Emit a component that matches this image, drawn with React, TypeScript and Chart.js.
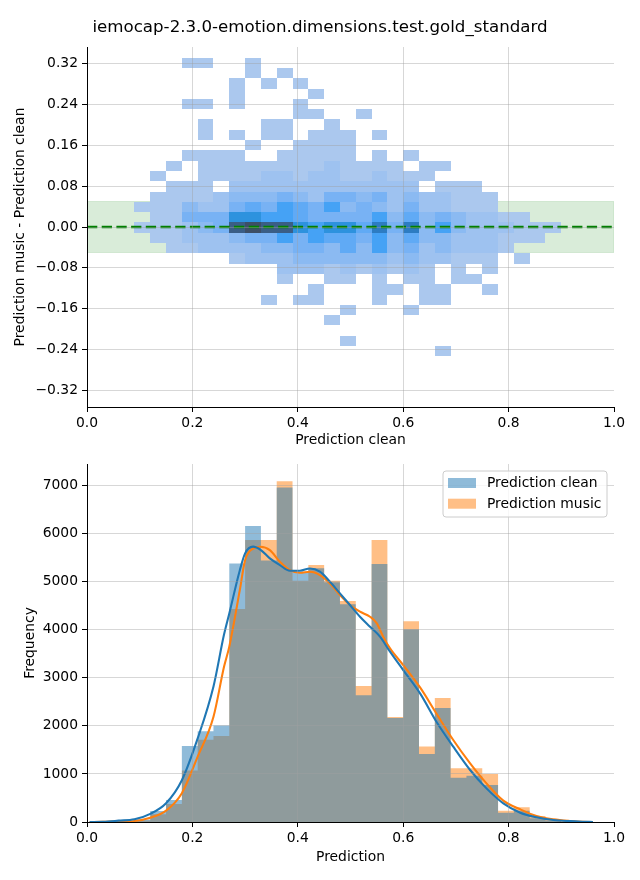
import React, { useEffect, useRef } from 'react';
import { Chart, registerables } from 'chart.js';

Chart.register(...registerables);

const FONT = "'DejaVu Sans', sans-serif";
const FONT_SIZE = 13.89;
const TITLE_SIZE = 16.67;

const TITLE = 'iemocap-2.3.0-emotion.dimensions.test.gold_standard';
const TOP_X_LABEL = 'Prediction clean';
const TOP_Y_LABEL = 'Prediction music - Prediction clean';
const BOTTOM_X_LABEL = 'Prediction';
const BOTTOM_Y_LABEL = 'Frequency';
const SERIES_NAMES = ['Prediction clean', 'Prediction music'];

const X_TICKS = [0, 0.2, 0.4, 0.6, 0.8, 1.0];
const TOP_Y_TICKS = [-0.32, -0.24, -0.16, -0.08, 0, 0.08, 0.16, 0.24, 0.32];
const BOTTOM_Y_TICKS = [0, 1000, 2000, 3000, 4000, 5000, 6000, 7000];

// 2D histogram: columns start at 0.09, width 0.03; rows from top edge 0.3322 down, height 0.0202
const HEAT_X_FIRST_EDGE = 0.09;
const HEAT_X_BIN = 0.03;
const HEAT_Y_TOP_EDGE = 0.3322;
const HEAT_Y_BIN = 0.0202;
// one string per row (top to bottom), one char per column: '.' empty, 1..a = count level
const HEAT_ROWS = [
  '...11..1',
  '.......1.1',
  '......1.1.1',
  '......1....1',
  '...11.1...1',
  '..........11..1',
  '....1...11..1',
  '....1.1.11.111.1',
  '.......1..1111',
  '...1111..11111.1.1',
  '..1.1111111121111.11',
  '.1..111122122112111',
  '..111.222222222222.111',
  '.1111233343244342322111',
  '11132245465463432422111',
  '.114447766544446353432211',
  '1112349a9976775848363222111',
  '.1122234464655463533222111',
  '..1122223344353634232221',
  '......12223333332322111.1',
  '.........2221212121.1.1',
  '.........1..11.1.11.11',
  '...........1...11.11..1',
  '........1.11...1..11',
  '.............1...1',
  '............1',
  '',
  '.............1',
  '...................1',
];
const HEAT_LEVEL_COLORS = [
  'rgba(0,0,0,0)',
  '#abc8ee',
  '#9ec2f0',
  '#8bbaf2',
  '#78b2f4',
  '#60aaf5',
  '#45a2f5',
  '#2d92de',
  '#2d7cc2',
  '#3a5e86',
  '#3d4f66',
];

const BAND_LOW = -0.05;
const BAND_HIGH = 0.05;
const ZERO_LINE_X = [0, 1];
const ZERO_LINE_Y = [0, 0];

// 1D histograms: bin edges and counts per bin
const BIN_EDGES = [
  0.09, 0.12, 0.15, 0.18, 0.21, 0.24, 0.27, 0.3, 0.33, 0.36, 0.39, 0.42, 0.45, 0.48,
  0.51, 0.54, 0.57, 0.6, 0.63, 0.66, 0.69, 0.72, 0.75, 0.78, 0.81, 0.84, 0.87, 0.9,
];
const CLEAN_COUNTS = [
  50, 230, 458, 1580, 1890, 2010, 5380, 6160, 5440, 6960, 5200, 5280, 4990, 4530,
  2640, 5370, 2165, 4010, 1415, 2370, 920, 960, 770, 195, 236, 80, 30,
];
const MUSIC_COUNTS = [
  30, 160, 374, 1070, 1710, 1790, 4430, 5870, 5870, 7090, 5020, 5350, 5020, 4600,
  2830, 5870, 2185, 4180, 1570, 2580, 1120, 1120, 1000, 235, 305, 125, 45,
];

const KDE_CLEAN_X = [
  0.005, 0.03, 0.06, 0.09, 0.12, 0.15, 0.18, 0.21, 0.24, 0.26, 0.27, 0.29, 0.3, 0.315, 0.33,
  0.347, 0.366, 0.385, 0.404, 0.423, 0.442, 0.461, 0.48, 0.499, 0.518, 0.537, 0.556, 0.575,
  0.6, 0.632, 0.664, 0.695, 0.727, 0.758, 0.79, 0.822, 0.853, 0.885, 0.916, 0.94, 0.96,
];
const KDE_CLEAN_Y = [
  0, 5, 28, 55, 170, 390, 870, 1740, 2820, 3900, 4340, 5240, 5590, 5730, 5660,
  5485, 5347, 5229, 5229, 5277, 5208, 5000, 4757, 4515, 4272, 4064, 3856, 3544,
  3162, 2677, 2070, 1567, 1082, 700, 388, 194, 97, 42, 18, 6, 0,
];
const KDE_MUSIC_X = [
  0.005, 0.03, 0.06, 0.09, 0.12, 0.15, 0.18, 0.21, 0.24, 0.26, 0.27, 0.29, 0.3, 0.315, 0.329,
  0.347, 0.366, 0.385, 0.404, 0.423, 0.442, 0.461, 0.48, 0.499, 0.518, 0.537, 0.55, 0.562,
  0.575, 0.6, 0.632, 0.664, 0.695, 0.727, 0.758, 0.79, 0.822, 0.853, 0.885, 0.916, 0.94, 0.96,
];
const KDE_MUSIC_Y = [
  0, 2, 12, 22, 90, 236, 600, 1360, 2190, 3230, 3650, 4830, 5450, 5690, 5728,
  5659, 5416, 5243, 5187, 5208, 5139, 4965, 4722, 4515, 4376, 4272, 4133, 3856,
  3613, 3266, 2800, 2240, 1706, 1220, 804, 444, 264, 125, 55, 21, 6, 0,
];

const CLEAN_FILL = 'rgba(31,119,180,0.5)';
const MUSIC_FILL = 'rgba(255,127,14,0.5)';
const GRID_COLOR = 'rgba(160,160,160,0.42)';

const axisFont = { family: FONT, size: FONT_SIZE };

function fmtSigned2(v: number) {
  const s = Math.abs(v).toFixed(2);
  return v < -1e-9 ? '\u2212' + s : s;
}

// step outline of a histogram: each count holds from its left edge to the next edge
function histSteps(counts: number[]) {
  return BIN_EDGES.map((x, i) => ({ x, y: counts[Math.min(i, counts.length - 1)] }));
}

function gridOpts(hideValues: number[]) {
  return {
    color: (ctx: any) => {
      const v = ctx.tick ? ctx.tick.value : null;
      if (v !== null && hideValues.some((h) => Math.abs(h - v) < 1e-9)) return 'rgba(0,0,0,0)';
      return GRID_COLOR;
    },
    lineWidth: 1,
    tickColor: '#000',
    tickLength: 5,
    tickWidth: 1,
    z: 1,
    offset: false,
  };
}

function xScale(title: string, titlePadBottom: number, height: number) {
  return {
    type: 'linear',
    min: 0,
    max: 1,
    offset: false,
    afterBuildTicks: (s: any) => {
      s.ticks = X_TICKS.map((v) => ({ value: v }));
    },
    afterFit: (s: any) => {
      s.height = height;
    },
    grid: gridOpts([0, 1]),
    border: { display: true, color: '#000', width: 1, z: 2 },
    ticks: {
      color: '#000',
      font: axisFont,
      padding: 3,
      maxRotation: 0,
      autoSkip: false,
      callback: (v: any) => Number(v).toFixed(1),
    },
    title: {
      display: true,
      text: title,
      color: '#000',
      font: axisFont,
      padding: { top: 0, bottom: titlePadBottom },
    },
  };
}

function yScale(title: string, titlePadTop: number, min: number, max: number, ticks: number[], fmt: (v: number) => string, hide: number[]) {
  return {
    type: 'linear',
    min,
    max,
    afterBuildTicks: (s: any) => {
      s.ticks = ticks.map((v) => ({ value: v }));
    },
    afterFit: (s: any) => {
      s.width = 87;
    },
    grid: gridOpts(hide),
    border: { display: true, color: '#000', width: 1, z: 2 },
    ticks: {
      color: '#000',
      font: axisFont,
      padding: 4,
      autoSkip: false,
      callback: (v: any) => fmt(Number(v)),
    },
    title: {
      display: true,
      text: title,
      color: '#000',
      font: axisFont,
      padding: { top: titlePadTop, bottom: 0 },
    },
  };
}

const heatPlugin = {
  id: 'heatCells',
  beforeDatasetsDraw(chart: any) {
    const { ctx, chartArea } = chart;
    const xs = chart.scales.x;
    const ys = chart.scales.y;
    ctx.save();
    ctx.beginPath();
    ctx.rect(chartArea.left, chartArea.top, chartArea.right - chartArea.left, chartArea.bottom - chartArea.top);
    ctx.clip();
    // tolerance band
    const bx0 = xs.getPixelForValue(0);
    const bx1 = xs.getPixelForValue(1);
    const by0 = ys.getPixelForValue(BAND_HIGH);
    const by1 = ys.getPixelForValue(BAND_LOW);
    ctx.fillStyle = 'rgba(0,128,0,0.15)';
    ctx.fillRect(bx0, by0, bx1 - bx0, by1 - by0);
    ctx.strokeStyle = 'rgba(0,128,0,0.12)';
    ctx.lineWidth = 1;
    ctx.strokeRect(bx0, by0, bx1 - bx0, by1 - by0);
    // cells
    HEAT_ROWS.forEach((row, i) => {
      const top = HEAT_Y_TOP_EDGE - i * HEAT_Y_BIN;
      const bottom = top - HEAT_Y_BIN;
      const py0 = Math.round(ys.getPixelForValue(top));
      const py1 = Math.round(ys.getPixelForValue(bottom));
      for (let c = 0; c < row.length; c++) {
        const ch = row[c];
        if (ch === '.') continue;
        const lvl = parseInt(ch, 16);
        const px0 = Math.round(xs.getPixelForValue(HEAT_X_FIRST_EDGE + c * HEAT_X_BIN));
        const px1 = Math.round(xs.getPixelForValue(HEAT_X_FIRST_EDGE + (c + 1) * HEAT_X_BIN));
        ctx.fillStyle = HEAT_LEVEL_COLORS[lvl];
        ctx.fillRect(px0, py0, px1 - px0, py1 - py0);
      }
    });
    ctx.restore();
  },
};

const legendPlugin = {
  id: 'boxLegend',
  afterDraw(chart: any) {
    const { ctx, chartArea } = chart;
    const w = 164;
    const h = 46;
    const x0 = chartArea.right - 7 - w;
    const y0 = chartArea.top + 7;
    ctx.save();
    ctx.beginPath();
    const r = 3;
    ctx.moveTo(x0 + r, y0);
    ctx.lineTo(x0 + w - r, y0);
    ctx.arcTo(x0 + w, y0, x0 + w, y0 + r, r);
    ctx.lineTo(x0 + w, y0 + h - r);
    ctx.arcTo(x0 + w, y0 + h, x0 + w - r, y0 + h, r);
    ctx.lineTo(x0 + r, y0 + h);
    ctx.arcTo(x0, y0 + h, x0, y0 + h - r, r);
    ctx.lineTo(x0, y0 + r);
    ctx.arcTo(x0, y0, x0 + r, y0, r);
    ctx.closePath();
    ctx.fillStyle = 'rgba(255,255,255,0.8)';
    ctx.fill();
    ctx.strokeStyle = '#cccccc';
    ctx.lineWidth = 1;
    ctx.stroke();
    const fills = [CLEAN_FILL, MUSIC_FILL];
    ctx.font = `${FONT_SIZE}px ${FONT}`;
    ctx.textBaseline = 'middle';
    ctx.textAlign = 'left';
    SERIES_NAMES.forEach((name, i) => {
      const py = y0 + 7 + i * 20.7;
      ctx.fillStyle = fills[i];
      ctx.fillRect(x0 + 5, py, 28, 10);
      ctx.fillStyle = '#000';
      ctx.fillText(name, x0 + 44, py + 5.5);
    });
    ctx.restore();
  },
};

function topConfig(): any {
  return {
    type: 'scatter',
    data: {
      datasets: [
        {
          data: ZERO_LINE_X.map((x, i) => ({ x, y: ZERO_LINE_Y[i] })),
          showLine: true,
          borderColor: '#008000',
          borderWidth: 2.7,
          borderDash: [10.3, 4.4],
          pointRadius: 0,
          fill: false,
        },
      ],
    },
    options: {
      animation: false,
      responsive: false,
      devicePixelRatio: 1,
      events: [],
      layout: { padding: { top: 47, right: 26, bottom: 0, left: 0 } },
      plugins: { legend: { display: false }, tooltip: { enabled: false }, title: { display: false } },
      scales: {
        x: xScale(TOP_X_LABEL, 1, 43),
        y: yScale(TOP_Y_LABEL, 12.5, -0.353, 0.353, TOP_Y_TICKS, fmtSigned2, []),
      },
    },
    plugins: [heatPlugin],
  };
}

function bottomConfig(): any {
  const histCommon = {
    showLine: true,
    stepped: 'before',
    borderWidth: 0,
    borderColor: 'rgba(0,0,0,0)',
    pointRadius: 0,
    fill: 'origin',
  };
  const lineCommon = {
    showLine: true,
    borderWidth: 2.08,
    pointRadius: 0,
    fill: false,
    cubicInterpolationMode: 'monotone',
  };
  return {
    type: 'scatter',
    data: {
      datasets: [
        {
          ...lineCommon,
          label: 'kde clean',
          data: KDE_CLEAN_X.map((x, i) => ({ x, y: KDE_CLEAN_Y[i] })),
          borderColor: '#1f77b4',
          order: 0,
        },
        {
          ...lineCommon,
          label: 'kde music',
          data: KDE_MUSIC_X.map((x, i) => ({ x, y: KDE_MUSIC_Y[i] })),
          borderColor: '#ff7f0e',
          order: 1,
        },
        {
          ...histCommon,
          label: SERIES_NAMES[0],
          data: histSteps(CLEAN_COUNTS),
          backgroundColor: CLEAN_FILL,
          order: 2,
        },
        {
          ...histCommon,
          label: SERIES_NAMES[1],
          data: histSteps(MUSIC_COUNTS),
          backgroundColor: MUSIC_FILL,
          order: 3,
        },
      ],
    },
    options: {
      animation: false,
      responsive: false,
      devicePixelRatio: 1,
      events: [],
      layout: { padding: { top: 14, right: 26, bottom: 0, left: 0 } },
      plugins: { legend: { display: false }, tooltip: { enabled: false }, title: { display: false } },
      scales: {
        x: xScale(BOTTOM_X_LABEL, 14.7, 58),
        y: yScale(BOTTOM_Y_LABEL, 21.7, 0, 7450, BOTTOM_Y_TICKS, (v) => String(Math.round(v)), [0]),
      },
    },
    plugins: [legendPlugin],
  };
}

export default function App() {
  const topRef = useRef<HTMLCanvasElement>(null);
  const botRef = useRef<HTMLCanvasElement>(null);

  useEffect(() => {
    const c1 = new Chart(topRef.current as HTMLCanvasElement, topConfig());
    const c2 = new Chart(botRef.current as HTMLCanvasElement, bottomConfig());
    return () => {
      c1.destroy();
      c2.destroy();
    };
  }, []);

  return (
    <div style={{ position: 'absolute', left: 0, top: 0, width: 640, height: 880, background: '#fff', overflow: 'hidden' }}>
      <canvas
        ref={topRef}
        width={640}
        height={450}
        style={{ position: 'absolute', left: 0, top: 0, width: 640, height: 450 }}
      />
      <canvas
        ref={botRef}
        width={640}
        height={430}
        style={{ position: 'absolute', left: 0, top: 450, width: 640, height: 430 }}
      />
      <div
        style={{
          position: 'absolute',
          left: 0,
          top: 17,
          width: 640,
          height: 20,
          lineHeight: '20px',
          textAlign: 'center',
          fontFamily: FONT,
          fontSize: TITLE_SIZE,
          color: '#000',
          whiteSpace: 'nowrap',
        }}
      >
        {TITLE}
      </div>
    </div>
  );
}
